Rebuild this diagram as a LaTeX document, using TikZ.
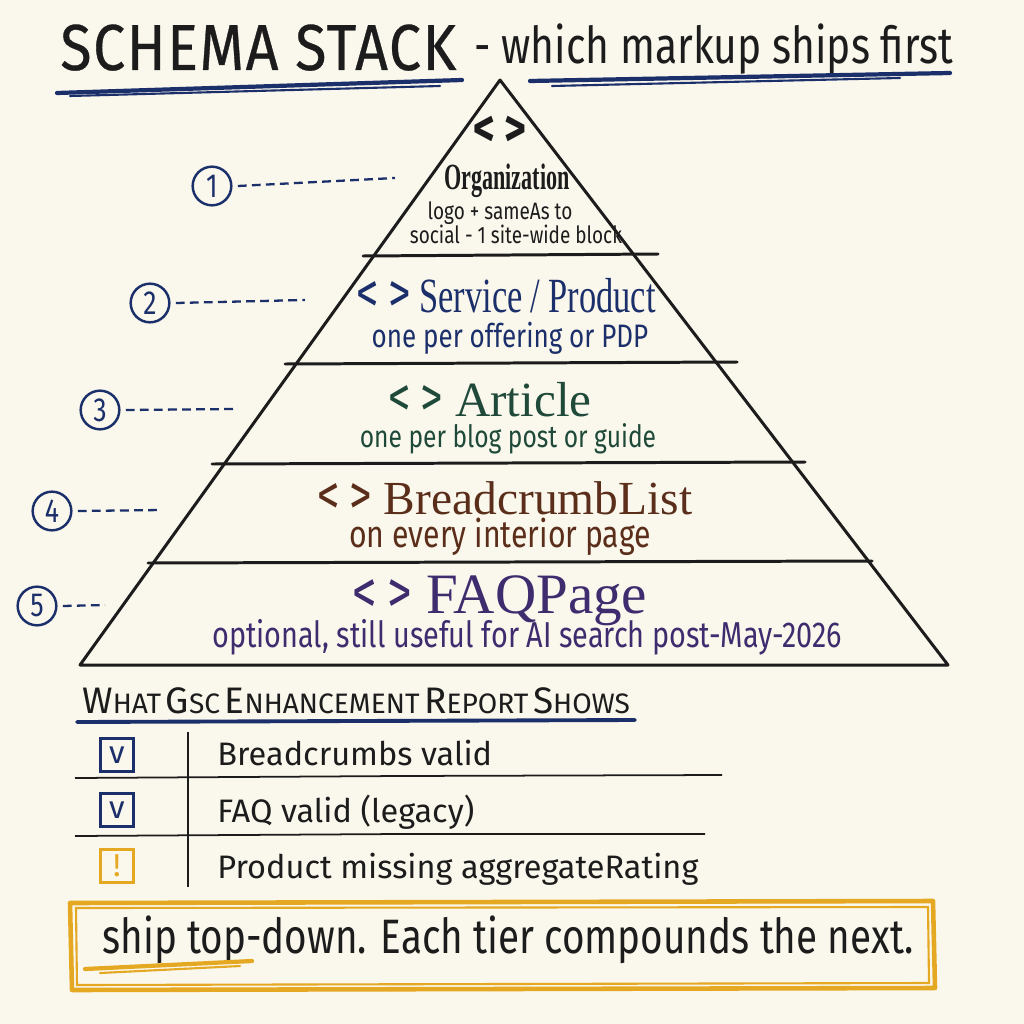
\documentclass[tikz,border=0pt]{standalone}
\usepackage{fontspec}
\setmainfont{Liberation Serif}
\newfontfamily\hand[FakeStretch=0.8]{Fira Sans}
\newfontfamily\handwide{Fira Sans}
\newfontfamily\titlefont[FakeStretch=0.88, LetterSpace=2.5, FakeBold=0.5]{Fira Sans}
\newfontfamily\tierfont[FakeStretch=0.7]{Liberation Serif}
\newfontfamily\tiernarrow[FakeStretch=0.6]{Liberation Serif}
\usetikzlibrary{positioning,calc}
\definecolor{paper}{HTML}{FAF7EC}
\definecolor{ink}{HTML}{1C1C1C}
\definecolor{navy}{HTML}{1B2F6B}
\definecolor{pine}{HTML}{1F4A3A}
\definecolor{rust}{HTML}{5A2E1A}
\definecolor{plum}{HTML}{3E2C6E}
\definecolor{marigold}{HTML}{E5A823}
\newcommand\setpt[1]{\fontsize{#1}{1.2\dimexpr#1pt\relax}\selectfont}
\newcommand\capw[2]{{\setpt{21}#1}{\setpt{16}#2}}
\newcommand\codetag[1]{{\hand\setpt{#1}<\,>}}
\tikzset{
    tierhead/.style={font=\tierfont, inner sep=0pt, anchor=base},
    tiernote/.style={font=\hand, inner sep=0pt, anchor=base},
    numcirc/.style={circle, draw=navy, line width=1.4pt, text=navy,
        minimum size=22pt, inner sep=0pt, font=\hand\setpt{19}},
    leader/.style={draw=navy, line width=1.3pt, dash pattern=on 5pt off 3pt},
    chkbox/.style={rectangle, draw=navy, line width=1.4pt, text=navy,
        minimum size=19pt, inner sep=0pt, font=\handwide\setpt{18}},
    rowtext/.style={font=\handwide\setpt{18.5}, text=ink, inner sep=0pt, anchor=base west},
    tier/.style={draw=ink, line width=1.7pt, line cap=round, line join=round}
}
\begin{document}
\begin{tikzpicture}[x=0.02cm, y=-0.02cm]
    % Paper
    \fill[paper] (0,0) rectangle (1024,1024);
    \useasboundingbox (0,0) rectangle (1024,1024);

    % Title
    \node[font=\titlefont\setpt{37}, text=ink, inner sep=0pt, anchor=base west]
        (title) at (60,70) {SCHEMA STACK};
    \node[font=\hand\setpt{29}, text=ink, inner sep=0pt, anchor=base west]
        (subtitle) at (474,64) {- which markup ships first};
    \draw[navy, line width=2.4pt, line cap=round] (57,93) -- (462,80);
    \draw[navy, line width=1.2pt, line cap=round] (70,96) -- (440,86);
    \draw[navy, line width=2.4pt, line cap=round] (530,81) -- (950,73);
    \draw[navy, line width=1.2pt, line cap=round] (552,86) -- (900,78);

    % Pyramid
    \coordinate (apex) at (500,80);
    \coordinate (bl) at (80,665);
    \coordinate (br) at (948,665);
    \draw[tier] (bl) -- (apex) -- (br) -- cycle;
    \draw[tier] (363,256) -- (658,254);
    \draw[tier] (285,364) -- (737,362);
    \draw[tier] (212,464) -- (805,462);
    \draw[tier] (148,563) -- (872,561);

    % Tier 1
    \node[anchor=center, inner sep=0pt, text=ink, font=\bfseries] (code1) at (500,131) {\codetag{30}};
    \node[tierhead, font=\tiernarrow\bfseries\setpt{21}, text=ink] (t1) at (507,189) {Organization};
    \node[tiernote, font=\hand\setpt{13.5}, text=ink] (n1a) at (500,219) {logo + sameAs to};
    \node[tiernote, font=\hand\setpt{13.5}, text=ink] (n1b) at (516,243) {social - 1 site-wide block};

    % Tier 2
    \node[tierhead, font=\tierfont\setpt{28}, text=navy] (t2) at (506,312)
        {\codetag{32}\ Service\,/\,Product};
    \node[tiernote, font=\hand\setpt{18.5}, text=navy] (n2) at (510,347) {one per offering or PDP};

    % Tier 3
    \node[tierhead, font=\setpt{28}, text=pine] (t3) at (490,416)
        {\codetag{32}\ Article};
    \node[tiernote, font=\hand\setpt{17.5}, text=pine] (n3) at (508,447) {one per blog post or guide};

    % Tier 4
    \node[tierhead, font=\setpt{27}, text=rust] (t4) at (505,514)
        {\codetag{32}\ BreadcrumbList};
    \node[tiernote, font=\hand\setpt{21.5}, text=rust] (n4) at (500,547) {on every interior page};

    % Tier 5
    \node[tierhead, font=\setpt{32.5}, text=plum] (t5) at (500,613)
        {\codetag{35}\ FAQPage};
    \node[tiernote, font=\hand\setpt{20.5}, text=plum] (n5) at (527,647)
        {optional, still useful for AI search post-May-2026};

    % Numbered leaders
    \node[numcirc] (c1) at (212,186) {1};
    \node[numcirc] (c2) at (150,303) {2};
    \node[numcirc] (c3) at (100,410) {3};
    \node[numcirc] (c4) at (52,511) {4};
    \node[numcirc] (c5) at (37,606) {5};
    \coordinate (d1) at (395,178);
    \coordinate (d2) at (305,300);
    \coordinate (d3) at (235,409);
    \coordinate (d4) at (162,510);
    \coordinate (d5) at (105,605);
    \foreach \i in {1,...,5}
        \draw[leader] ([xshift=3pt]c\i.east) -- (d\i);

    % GSC report table
    \node[font=\handwide, text=ink, inner sep=0pt, anchor=base west] (report) at (82,713)
        {\capw{W}{HAT} \capw{G}{SC} \capw{E}{NHANCEMENT} \capw{R}{EPORT} \capw{S}{HOWS}};
    \draw[navy, line width=2.2pt, line cap=round] (77,722) -- (635,720);
    \draw[ink, line width=1pt] (188,732) -- (188,887);
    \draw[ink, line width=1pt] (75,778) -- (400,776) -- (722,775);
    \draw[ink, line width=1pt] (75,836) -- (400,834) -- (705,834);

    \node[chkbox] (b1) at (117,755) {v};
    \node[chkbox] (b2) at (117,810) {v};
    \node[chkbox, draw=marigold, text=marigold] (b3) at (117,866) {!};
    \node[rowtext] (r1) at (217,765) {Breadcrumbs valid};
    \node[rowtext] (r2) at (217,822) {FAQ valid (legacy)};
    \node[rowtext] (r3) at (217,878) {Product missing aggregateRating};

    % Takeaway box
    \draw[marigold, line width=2.6pt, line join=round] (70,903) -- (933,901) -- (935,988) -- (72,990) -- cycle;
    \draw[marigold, line width=1.2pt] (76,908) -- (928,907) -- (929,983) -- (77,985) -- cycle;
    \node[font=\hand\setpt{27.5}, text=ink, inner sep=0pt, anchor=base] (takeaway) at (508,953)
        {ship top-down. Each tier compounds the next.};
    \draw[marigold, line width=2.4pt, line cap=round] (85,969) -- (252,961);
    \draw[marigold, line width=1.2pt, line cap=round] (100,973) -- (240,966);
\end{tikzpicture}
\end{document}
